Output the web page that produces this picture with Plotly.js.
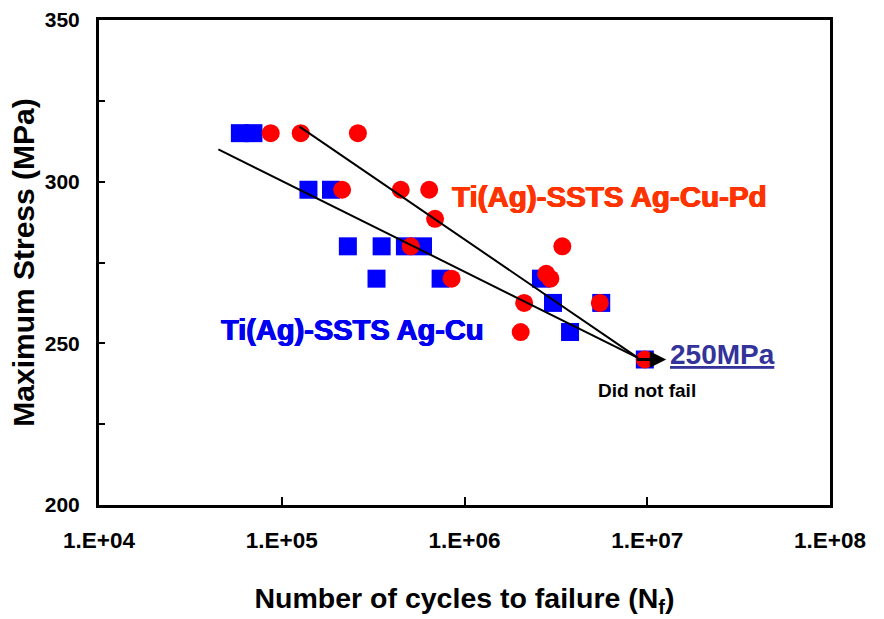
<!DOCTYPE html>
<html>
<head>
<meta charset="utf-8">
<script src="https://cdn.plot.ly/plotly-3.0.1.min.js"></script>
<style>html,body{margin:0;padding:0;background:#fff;}#chart{width:884px;height:619px;}</style>
</head>
<body>
<div id="chart"></div>
<script>
// Ti(Ag)-SSTS Ag-Cu  (blue squares)
var agcuCycles = [5.9e4, 7.0e4, 1.40e5, 1.86e5, 2.30e5, 3.52e5, 4.72e5, 5.93e5, 3.30e5, 7.4e5, 2.62e6, 3.05e6, 5.6e6, 3.78e6, 9.7e6];
var agcuStress = [315, 315, 297.5, 297.5, 280, 280, 280, 280, 270, 270, 270, 262.5, 262.5, 253.5, 245];

// Ti(Ag)-SSTS Ag-Cu-Pd  (red circles)
var agcupdCycles = [8.7e4, 1.27e5, 2.61e5, 2.14e5, 4.48e5, 6.41e5, 6.9e5, 5.08e5, 3.43e6, 8.5e5, 2.8e6, 2.95e6, 2.12e6, 5.5e6, 2.03e6, 9.7e6];
var agcupdStress = [315, 315, 315, 297.5, 297.5, 297.5, 288.5, 280, 280, 270, 271.5, 270, 262.5, 262.5, 253.5, 245];

// fitted trend lines
var fitAgCuCycles = [4.5e4, 8.9e6];
var fitAgCuStress = [310, 245.5];
var fitAgCuPdCycles = [1.25e5, 8.9e6];
var fitAgCuPdStress = [317, 245.5];

// axis ticks
var xTickVals = [1e4, 1e5, 1e6, 1e7, 1e8];
var xTickText = ['1.E+04', '1.E+05', '1.E+06', '1.E+07', '1.E+08'];
var yTickVals = [200, 250, 300, 350];

var FONT = 'Liberation Sans, Arial, sans-serif';

function heavy(c) {
  return '0.6px 0 0 ' + c + ', -0.6px 0 0 ' + c + ', 0 0.4px 0 ' + c;
}

var traces = [
  {x: agcuCycles, y: agcuStress, type: 'scatter', mode: 'markers', name: 'Ti(Ag)-SSTS Ag-Cu',
   marker: {symbol: 'square', size: 18, color: '#0000FF'}},
  {x: agcupdCycles, y: agcupdStress, type: 'scatter', mode: 'markers', name: 'Ti(Ag)-SSTS Ag-Cu-Pd',
   marker: {symbol: 'circle', size: 18, color: '#FF0000'}},
  {x: fitAgCuCycles, y: fitAgCuStress, type: 'scatter', mode: 'lines', line: {color: '#000', width: 2}},
  {x: fitAgCuPdCycles, y: fitAgCuPdStress, type: 'scatter', mode: 'lines', line: {color: '#000', width: 2}}
];

var last = agcuCycles.length - 1;

var layout = {
  width: 884, height: 619,
  margin: {l: 99, r: 54, t: 20, b: 114},
  paper_bgcolor: '#fff', plot_bgcolor: '#fff',
  showlegend: false,
  font: {family: FONT, color: '#000'},
  xaxis: {
    type: 'log', range: [4, 8],
    tickvals: xTickVals, ticktext: xTickText,
    ticks: 'inside', ticklen: 8, tickwidth: 2, tickcolor: '#000',
    showline: true, linewidth: 3, linecolor: '#000', mirror: true,
    showgrid: false, zeroline: false,
    tickfont: {family: FONT, size: 22.5, color: '#000', weight: 'bold'},
    ticklabelstandoff: 13,
    title: {text: '<b>Number of cycles to failure (N<sub>f</sub>)</b>', font: {family: FONT, size: 28.5, color: '#000'}, standoff: 37}
  },
  yaxis: {
    range: [200, 350],
    tickvals: yTickVals,
    ticks: 'inside', ticklen: 6, tickwidth: 2, tickcolor: '#000',
    minor: {dtick: 25, ticks: 'inside', ticklen: 6, tickwidth: 2, tickcolor: '#000', showgrid: false},
    showline: true, linewidth: 3, linecolor: '#000', mirror: true,
    showgrid: false, zeroline: false,
    tickfont: {family: FONT, size: 21, color: '#000', weight: 'bold'},
    ticklabelstandoff: 12,
    title: {text: '<b>Maximum Stress (MPa)</b>', font: {family: FONT, size: 30, color: '#000'}, standoff: 2}
  },
  annotations: [
    {x: Math.log10(6.25e6), y: 295.5, xref: 'x', yref: 'y', xanchor: 'center', yanchor: 'middle', showarrow: false,
     text: '<b>Ti(Ag)-SSTS Ag-Cu-Pd</b>', font: {family: FONT, size: 29.5, color: '#FF3300', shadow: heavy('#FF3300')}},
    {x: Math.log10(2.45e5), y: 254, xref: 'x', yref: 'y', xanchor: 'center', yanchor: 'middle', showarrow: false,
     text: '<b>Ti(Ag)-SSTS Ag-Cu</b>', font: {family: FONT, size: 29, color: '#0000F0', shadow: heavy('#0000F0')}},
    {x: Math.log10(1.27e7), y: agcuStress[last], xref: 'x', yref: 'y',
     ax: Math.log10(8.6e6), ay: agcuStress[last], axref: 'x', ayref: 'y',
     showarrow: true, arrowhead: 2, arrowsize: 1.1, arrowwidth: 3, arrowcolor: '#000', text: ''},
    {x: Math.log10(1.3e7), y: 246.5, xref: 'x', yref: 'y', xanchor: 'left', yanchor: 'middle', showarrow: false,
     text: '<b>250MPa</b>', font: {family: FONT, size: 28, color: '#333399', lineposition: 'under'}},
    {x: Math.log10(1.0e7), y: 235.5, xref: 'x', yref: 'y', xanchor: 'center', yanchor: 'middle', showarrow: false,
     text: '<b>Did not fail</b>', font: {family: FONT, size: 19, color: '#000'}}
  ]
};

Plotly.newPlot('chart', traces, layout, {staticPlot: true, displayModeBar: false});
</script>
</body>
</html>
